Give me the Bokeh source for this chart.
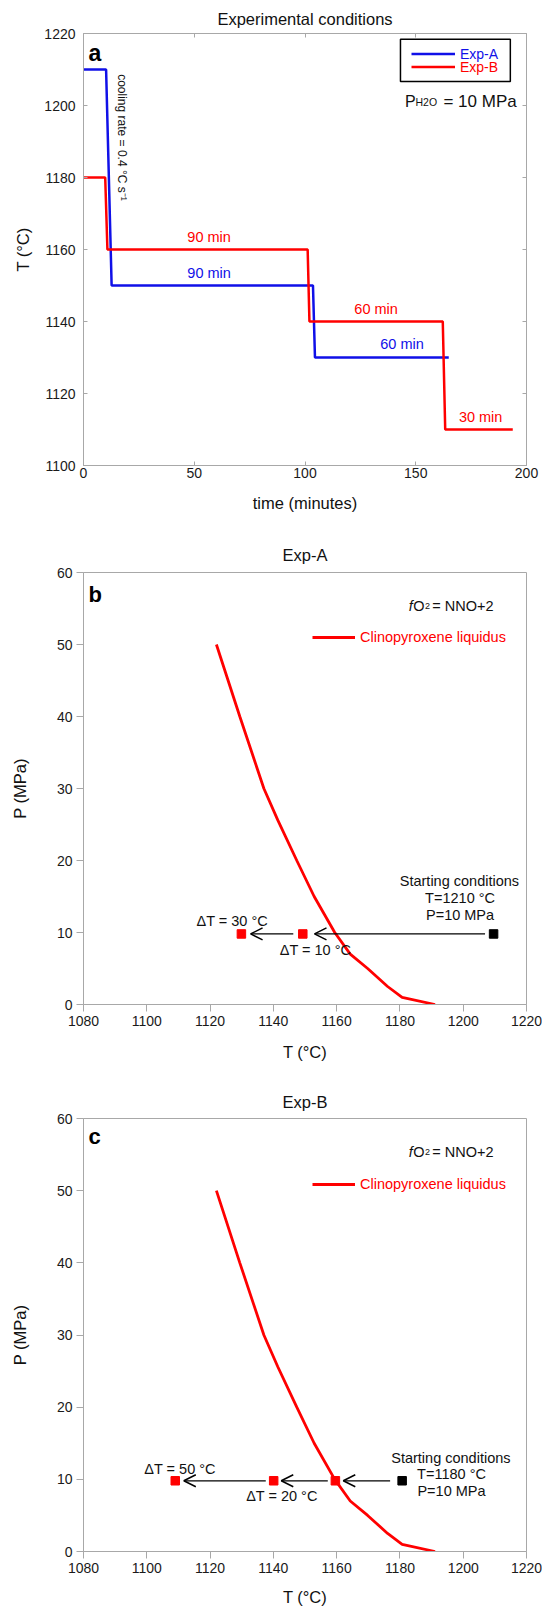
import math
from bokeh.plotting import figure
from bokeh.models import (Range1d, LinearAxis, FixedTicker, Label, Legend, LegendItem,
                          Arrow, OpenHead, ColumnDataSource, BoxAnnotation)
from bokeh.layouts import column
from bokeh.embed import file_html
from bokeh.resources import INLINE

FONT = "Liberation Sans"
GREY = "#a8a8a8"
BLUE = "#1010e8"
RED = "#ff0000"

# ---------------- data: panel a (temperature history) ----------------
exp_a_time = [0, 10.2, 12.7, 103.6, 104.5, 164.9]
exp_a_temp = [1210, 1210, 1150, 1150, 1130, 1130]
exp_b_time = [0, 9.8, 10.8, 101.2, 102.0, 162.2, 163.3, 193.8]
exp_b_temp = [1180, 1180, 1160, 1160, 1140, 1140, 1110, 1110]
time_ticks = [0, 50, 100, 150, 200]
temp_ticks = [1100, 1120, 1140, 1160, 1180, 1200, 1220]

# ---------------- data: clinopyroxene liquidus ----------------
liq_T = [1122.0, 1129.4, 1137.0, 1141.4, 1147.4, 1152.9, 1159.4, 1164.3, 1169.8, 1176.1, 1180.7, 1191.1]
liq_P = [50, 40, 30, 25.6, 20, 15, 10, 7, 5, 2.5, 1, 0]
T_ticks = [1080, 1100, 1120, 1140, 1160, 1180, 1200, 1220]
P_ticks = [0, 10, 20, 30, 40, 50, 60]

# ---------------- data: panel b (Exp-A) ----------------
b_run_T = [1129.9, 1149.3]
b_run_P = [9.8, 9.8]
b_start_T = [1209.6]
b_start_P = [9.8]
b_arrow_from = [1206.9, 1146.3]
b_arrow_to = [1153.0, 1132.8]
b_arrow_P = [9.8, 9.8]

# ---------------- data: panel c (Exp-B) ----------------
c_run_T = [1109.0, 1140.1, 1159.6]
c_run_P = [9.8, 9.8, 9.8]
c_start_T = [1180.7]
c_start_P = [9.8]
c_arrow_from = [1176.9, 1157.2, 1137.6]
c_arrow_to = [1162.1, 1142.5, 1111.7]
c_arrow_P = [9.8, 9.8, 9.8]


def base_style(p, title_standoff, valign="bottom"):
    p.grid.visible = False
    p.outline_line_color = GREY
    p.outline_line_width = 1
    p.background_fill_color = "white"
    p.border_fill_color = "white"
    p.title.text_font = FONT
    p.title.text_font_size = "16.5px"
    p.title.text_font_style = "normal"
    p.title.text_color = "#111111"
    p.title.align = "center"
    p.title.vertical_align = valign
    p.title.standoff = title_standoff
    for ax in p.xaxis + p.yaxis:
        ax.axis_line_color = GREY
        ax.major_tick_line_color = GREY
        ax.minor_tick_line_color = None
        ax.major_label_text_font = FONT
        ax.major_label_text_font_size = "14px"
        ax.major_label_text_color = "#1a1a1a"
        ax.axis_label_text_font = FONT
        ax.axis_label_text_font_size = "16.5px"
        ax.axis_label_text_font_style = "normal"
        ax.axis_label_text_color = "#111111"


def lab(p, x, y, text, size="14.5px", color="#111111", align="center",
        baseline="middle", style="normal", angle=0.0):
    p.add_layout(Label(x=x, y=y, text=text, text_font=FONT, text_font_size=size,
                       text_color=color, text_align=align, text_baseline=baseline,
                       text_font_style=style, angle=angle))


# ======================= panel a =======================
pa = figure(width=542, height=530, x_range=Range1d(0, 200), y_range=Range1d(1100, 1220),
            output_backend="svg", toolbar_location=None, title="Experimental conditions",
            min_border_left=83, min_border_right=16, min_border_top=33, min_border_bottom=65)
pa.xaxis.ticker = FixedTicker(ticks=time_ticks)
pa.yaxis.ticker = FixedTicker(ticks=temp_ticks)
pa.xaxis.axis_label = "time (minutes)"
pa.yaxis.axis_label = "T (°C)"
base_style(pa, 8, "top")
for ax in pa.xaxis + pa.yaxis:
    ax.major_tick_in = 4
    ax.major_tick_out = 0
pa.xaxis.major_label_standoff = 2
pa.yaxis.major_label_standoff = 8
pa.xaxis.axis_label_standoff = 13
pa.yaxis.axis_label_standoff = 9

for loc, tk in (("above", time_ticks), ("right", temp_ticks)):
    ax = LinearAxis(ticker=FixedTicker(ticks=tk),
                    major_label_overrides={t: "" for t in tk},
                    major_label_standoff=0, major_tick_in=4, major_tick_out=0,
                    minor_tick_line_color=None, axis_line_color=None,
                    major_tick_line_color=GREY)
    pa.add_layout(ax, loc)

ra = pa.line(exp_a_time, exp_a_temp, line_color=BLUE, line_width=2.5)
rb = pa.line(exp_b_time, exp_b_temp, line_color=RED, line_width=2.5)

# legend frame
pa.add_layout(BoxAnnotation(left=143.1, right=192.7, bottom=1206.7, top=1218.4,
                            fill_alpha=0, line_color="black", line_width=1.5,
                            line_alpha=1.0))
for rend, name, col, ybot in ((ra, "Exp-A", BLUE, 403), (rb, "Exp-B", RED, 390)):
    pa.add_layout(Legend(items=[LegendItem(label=name, renderers=[rend])],
                         location=(328, ybot), border_line_alpha=0,
                         background_fill_alpha=0, padding=0, spacing=0, margin=0,
                         glyph_width=44, glyph_height=17, label_height=17,
                         label_standoff=5, label_text_font=FONT,
                         label_text_font_size="14px", label_text_color=col))

lab(pa, 2.3, 1214.55, "a", size="23px", align="left", baseline="alphabetic", style="bold",
    color="black")
lab(pa, 17.3, 1208.7, "cooling rate = 0.4 °C s⁻¹", size="12px", align="left",
    baseline="middle", angle=-math.pi / 2)

lab(pa, 56.7, 1163.5, "90 min", color=RED)
lab(pa, 56.7, 1153.6, "90 min", color=BLUE)
lab(pa, 132.1, 1143.4, "60 min", color=RED)
lab(pa, 143.8, 1133.7, "60 min", color=BLUE)
lab(pa, 179.3, 1113.5, "30 min", color=RED)

lab(pa, 145.2, 1201, "P", size="16px", align="left", baseline="alphabetic")
lab(pa, 149.9, 1201, "H2O", size="10.5px", align="left", baseline="alphabetic")
lab(pa, 162.5, 1201, "= 10 MPa", size="17px", align="left", baseline="alphabetic")


# ======================= panels b and c =======================
def phase_panel(title, letter, height, top, bottom, run_T, run_P, start_T, start_P,
                a_from, a_to, a_P, texts, letter_y, leg_y, xlab_standoff, t_standoff):
    p = figure(width=542, height=height, x_range=Range1d(1080, 1220), y_range=Range1d(0, 60),
               output_backend="svg", toolbar_location=None, title=title,
               min_border_left=82, min_border_right=16, min_border_top=top,
               min_border_bottom=bottom)
    p.xaxis.ticker = FixedTicker(ticks=T_ticks)
    p.yaxis.ticker = FixedTicker(ticks=P_ticks)
    p.xaxis.axis_label = "T (°C)"
    p.yaxis.axis_label = "P (MPa)"
    base_style(p, t_standoff)
    for ax in p.xaxis + p.yaxis:
        ax.major_tick_in = 0
        ax.major_tick_out = 7
        ax.major_label_standoff = 4
    p.xaxis.axis_label_standoff = xlab_standoff
    p.yaxis.axis_label_standoff = 25

    rl = p.line(liq_T, liq_P, line_color=RED, line_width=2.8)
    lg = Legend(items=[LegendItem(label="Clinopyroxene liquidus", renderers=[rl])],
                location=(229, leg_y), border_line_alpha=0, background_fill_alpha=0,
                padding=0, spacing=0, margin=0, glyph_width=43, glyph_height=16,
                label_height=16, label_standoff=5, label_text_font=FONT,
                label_text_font_size="14.5px", label_text_color=RED)
    p.add_layout(lg)

    src = ColumnDataSource(dict(x0=a_from, x1=a_to, y=a_P))
    p.add_layout(Arrow(end=OpenHead(size=12, line_width=1.5, line_color="black"),
                       source=src, x_start="x0", y_start="y", x_end="x1", y_end="y",
                       line_width=1.3, line_color="black"))
    p.scatter(run_T, run_P, marker="square", size=8.5, fill_color=RED, line_color=RED)
    p.scatter(start_T, start_P, marker="square", size=8.5, fill_color="black",
              line_color="black")

    lab(p, 1081.6, letter_y, letter, size="22px", align="left", baseline="alphabetic",
        style="bold", color="black")
    fy = 55.4
    lab(p, 1182.8, fy, "f", size="14.5px", align="left", baseline="alphabetic", style="italic")
    lab(p, 1184.2, fy, "O", size="14.5px", align="left", baseline="alphabetic")
    lab(p, 1187.9, fy, "2", size="9px", align="left", baseline="alphabetic")
    lab(p, 1190.2, fy, "= NNO+2", size="14.5px", align="left", baseline="alphabetic")
    for (x, y, t) in texts:
        lab(p, x, y, t)
    return p


pb = phase_panel("Exp-A", "b", 545, 42, 71, b_run_T, b_run_P, b_start_T, b_start_P,
                 b_arrow_from, b_arrow_to, b_arrow_P,
                 [(1127.0, 11.55, "ΔT = 30 °C"), (1153.3, 7.55, "ΔT = 10 °C"),
                  (1198.8, 17.1, "Starting conditions"), (1199.0, 14.8, "T=1210 °C"),
                  (1199.0, 12.5, "P=10 MPa")],
                 57.0, 359, 14, 17)

pc = phase_panel("Exp-B", "c", 535, 43, 59, c_run_T, c_run_P, c_start_T, c_start_P,
                 c_arrow_from, c_arrow_to, c_arrow_P,
                 [(1110.5, 11.5, "ΔT = 50 °C"), (1142.7, 7.66, "ΔT = 20 °C"),
                  (1196.1, 13.0, "Starting conditions"), (1196.3, 10.7, "T=1180 °C"),
                  (1196.3, 8.4, "P=10 MPa")],
                 57.45, 359, 12, 16)

layout = column(pa, pb, pc, spacing=0)
open("out.html", "w").write(file_html(layout, INLINE))
